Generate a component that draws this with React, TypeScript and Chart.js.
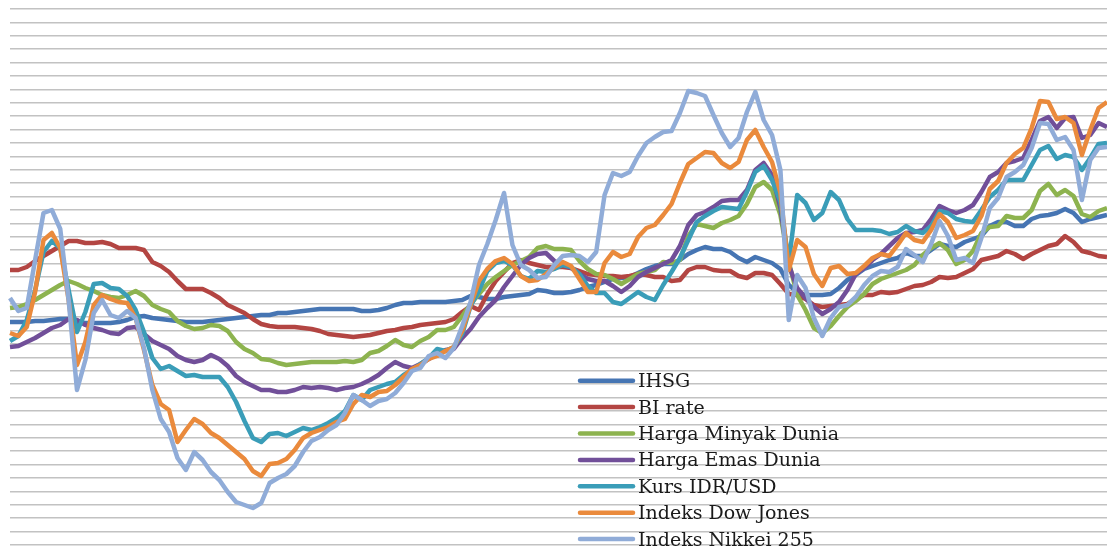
import React, { useEffect, useRef } from "react";
import { Chart, registerables } from "chart.js";

Chart.register(...registerables);

// Normalised index levels (arbitrary units, 0..536 scale)
const IHSG = [
  223,223,223,224,224,225,226,226,223,222,
  222,222,222,223,225,228,229,227,226,225,
  224,223,223,223,224,225,226,227,228,229,
  230,230,232,232,233,234,235,236,236,236,
  236,236,234,234,235,237,240,242,242,243,
  243,243,243,244,245,249,248,246,246,248,
  249,250,251,255,254,252,252,253,255,258,
  260,263,266,267,268,272,276,279,281,281,
  285,291,295,298,296,296,293,287,283,288,
  285,282,276,260,253,250,250,250,251,257,
  265,270,276,279,282,285,287,292,289,289,
  295,301,299,298,303,306,309,319,323,323,
  319,319,326,329,330,332,336,332,323,326,
  328,330,
];
const BI_RATE = [
  275,275,278,284,289,294,299,304,304,302,
  302,303,301,297,297,297,295,283,279,273,
  264,256,256,256,252,247,240,236,232,226,
  221,219,218,218,218,217,216,214,211,210,
  209,208,209,210,212,214,215,217,218,220,
  221,222,223,226,233,239,235,251,264,273,
  282,285,282,280,278,278,278,277,274,271,
  270,269,269,268,269,271,270,268,268,264,
  265,275,278,278,275,274,274,269,267,272,
  272,270,261,251,250,246,240,238,239,240,
  241,246,250,250,253,252,253,256,259,260,
  263,268,267,268,272,276,285,287,289,294,
  291,286,291,295,299,301,309,303,294,292,
  289,288,
];
const MINYAK = [
  237,238,241,245,250,255,260,264,261,257,
  254,250,248,247,250,254,249,240,236,233,
  224,219,216,217,220,219,214,203,196,192,
  186,185,182,180,181,182,183,183,183,183,
  184,183,185,192,194,199,205,200,198,204,
  208,215,215,218,229,241,251,261,268,274,
  280,284,288,297,299,296,296,295,284,276,
  271,270,266,261,266,271,273,275,283,282,
  285,309,321,319,317,322,325,329,341,358,
  363,355,330,283,250,235,217,212,219,229,
  238,244,251,261,266,269,272,275,280,290,
  297,302,295,281,285,294,312,318,319,329,
  327,327,335,354,361,350,355,349,331,328,
  334,337,
];
const EMAS = [
  198,199,203,207,212,217,220,226,225,220,
  217,215,212,211,217,218,211,204,200,196,
  189,185,183,185,190,186,179,169,163,159,
  155,155,153,153,155,158,157,158,157,155,
  157,158,161,165,170,177,183,179,177,181,
  186,191,195,196,207,216,228,237,245,258,
  269,280,287,291,292,284,280,277,271,266,
  264,264,259,253,259,268,273,277,281,285,
  299,320,330,333,338,344,345,345,355,375,
  382,370,337,280,257,247,238,231,236,243,
  255,271,277,285,291,299,307,312,313,315,
  326,339,335,332,335,340,353,368,373,382,
  384,387,405,424,428,417,427,428,407,410,
  422,418,
];
const KURS = [
  204,209,225,255,293,304,297,255,213,233,
  261,262,257,256,249,235,213,187,176,179,
  174,169,170,168,168,168,158,143,124,107,
  103,111,112,109,113,117,115,118,122,127,
  134,150,145,155,158,161,163,170,175,181,
  187,196,194,198,211,239,254,274,282,284,
  280,269,266,274,273,276,280,278,271,259,
  252,252,243,241,247,253,248,245,260,273,
  287,305,323,329,334,338,337,336,353,373,
  379,365,343,283,350,342,325,332,353,345,
  326,315,315,315,314,311,313,319,314,312,
  319,334,332,326,324,323,335,348,355,365,
  365,365,380,395,399,386,390,388,375,387,
  401,402,
];
const DOW_JONES = [
  212,209,218,253,305,312,297,245,180,203,
  240,250,246,243,242,227,195,160,141,135,
  103,115,126,121,112,107,100,93,86,74,
  69,81,82,86,95,107,112,115,118,123,
  126,141,150,148,153,154,160,168,176,180,
  186,189,194,198,214,240,264,276,284,287,
  281,269,264,265,271,278,283,279,266,253,
  253,282,293,288,291,308,317,320,330,341,
  362,381,387,393,392,382,377,383,405,415,
  398,383,352,275,305,298,271,259,277,279,
  271,272,279,287,291,289,300,312,305,303,
  315,331,323,307,310,314,329,356,364,382,
  391,397,417,444,443,426,428,422,390,415,
  437,443,
];
const NIKKEI = [
  247,234,237,285,332,335,316,245,155,185,
  232,245,230,227,234,227,197,155,126,113,
  87,75,93,85,73,65,53,43,40,37,
  42,62,67,71,79,93,104,108,115,120,
  132,150,145,139,144,146,152,162,174,177,
  189,192,187,197,219,243,280,301,325,352,
  300,280,275,267,268,280,289,290,289,283,
  293,350,372,369,373,389,402,408,413,414,
  432,454,452,449,430,412,398,407,433,453,
  425,410,375,225,270,257,227,209,227,238,
  240,248,260,269,274,273,278,296,290,283,
  301,324,309,285,287,282,307,337,347,368,
  373,380,397,422,421,405,408,395,345,385,
  397,398,
];

const PERIODS = IHSG.map((_, i) => `P${i + 1}`);

const SERIES_NAMES = [
  "IHSG",
  "BI rate",
  "Harga Minyak Dunia",
  "Harga Emas Dunia",
  "Kurs IDR/USD",
  "Indeks Dow Jones",
  "Indeks Nikkei 255",
];
const SERIES_DATA = [IHSG, BI_RATE, MINYAK, EMAS, KURS, DOW_JONES, NIKKEI];
const SERIES_COLORS = [
  "#4675b3",
  "#b34542",
  "#8db34f",
  "#714f99",
  "#3a9db8",
  "#ea8a3c",
  "#90acd8",
];

const Y_MIN = 0;
const Y_MAX = 536;
const Y_STEP = 13.4;

const LEGEND_X = 580;
const LEGEND_TOP = 380.7;
const LEGEND_ROW = 26.4;

const insideLegend = {
  id: "insideLegend",
  afterDraw(chart: any) {
    const ctx = chart.ctx;
    ctx.save();
    chart.data.datasets.forEach((ds: any, i: number) => {
      const y = LEGEND_TOP + i * LEGEND_ROW;
      ctx.strokeStyle = ds.borderColor;
      ctx.lineWidth = 4.5;
      ctx.lineCap = "round";
      ctx.beginPath();
      ctx.moveTo(LEGEND_X, y);
      ctx.lineTo(LEGEND_X + 53, y);
      ctx.stroke();
      ctx.fillStyle = "#1a1a1a";
      ctx.font = '19px "DejaVu Serif"';
      ctx.textBaseline = "alphabetic";
      ctx.textAlign = "left";
      ctx.fillText(ds.label, LEGEND_X + 58, y + 6.5);
    });
    ctx.restore();
  },
};

export default function App() {
  const canvasRef = useRef<HTMLCanvasElement | null>(null);

  useEffect(() => {
    if (!canvasRef.current) return;
    const chart = new Chart(canvasRef.current, {
      type: "line",
      data: {
        labels: PERIODS,
        datasets: SERIES_NAMES.map((name, i) => ({
          label: name,
          data: SERIES_DATA[i],
          borderColor: SERIES_COLORS[i],
          backgroundColor: SERIES_COLORS[i],
          borderWidth: 4.5,
          pointRadius: 0,
          tension: 0,
          borderJoinStyle: "round" as const,
          fill: false,
          order: SERIES_NAMES.length - 1 - i,
        })),
      },
      options: {
        animation: false,
        responsive: false,
        layout: { padding: { left: 10, right: 0, top: 9, bottom: 11 } },
        plugins: {
          legend: { display: false },
          tooltip: { enabled: false },
        },
        scales: {
          x: {
            display: false,
            offset: false,
          },
          y: {
            min: Y_MIN,
            max: Y_MAX,
            ticks: { display: false, stepSize: Y_STEP },
            border: { display: false },
            grid: { color: "#c2c2c2", lineWidth: 1.6, drawTicks: false },
          },
        },
      },
      plugins: [insideLegend],
    });
    return () => chart.destroy();
  }, []);

  return (
    <div style={{ position: "absolute", left: 0, top: 0, width: 1107, height: 556, background: "#fff" }}>
      <canvas ref={canvasRef} width={1107} height={556} style={{ display: "block" }} />
    </div>
  );
}
